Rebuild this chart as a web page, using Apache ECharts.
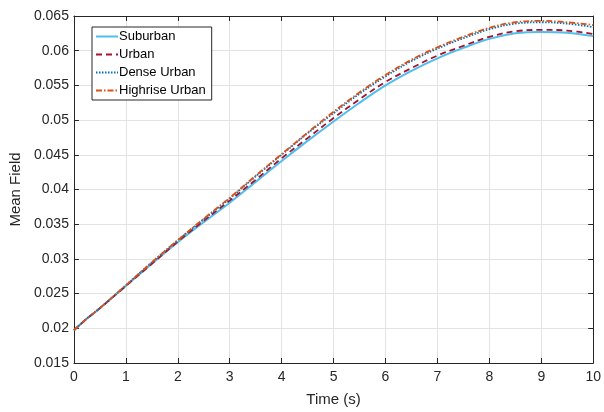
<!DOCTYPE html>
<html>
<head>
<meta charset="utf-8">
<script src="https://cdn.jsdelivr.net/npm/echarts@6/dist/echarts.min.js"></script>
<style>html,body{margin:0;padding:0;background:#fff;}#c{width:604px;height:412px;}</style>
</head>
<body>
<div id="c"></div>
<script>
const time = [0,0.1,0.25,0.5,1,1.5,2,2.5,3,3.5,4,4.5,5,5.5,6,6.5,7,7.5,8,8.5,9,9.5,10];
const suburban = [0.0197,0.0204,0.0214,0.0229,0.0261,0.0293,0.0324,0.0353,0.0381,0.0411,0.0441,0.0470,0.0498,0.0525,0.0550,0.0571,0.0589,0.0604,0.0617,0.0625,0.0627,0.0626,0.0621];
const urban = [0.0197,0.0204,0.0214,0.0229,0.0261,0.0293,0.0325,0.0355,0.0384,0.0414,0.0445,0.0474,0.0503,0.0530,0.0555,0.0575,0.0593,0.0607,0.0620,0.0628,0.0630,0.0629,0.0624];
const denseUrban = [0.0197,0.0204,0.0214,0.0229,0.0262,0.0295,0.0327,0.0357,0.0387,0.0419,0.0450,0.0481,0.0510,0.0538,0.0563,0.0585,0.0603,0.0618,0.0631,0.0639,0.0641,0.0639,0.0634];
const highriseUrban = [0.0197,0.0204,0.0214,0.0229,0.0262,0.0295,0.0327,0.0358,0.0388,0.0420,0.0451,0.0482,0.0512,0.0540,0.0565,0.0587,0.0605,0.0620,0.0633,0.0641,0.0643,0.0641,0.0637];
const seriesNames = ['Suburban','Urban','Dense Urban','Highrise Urban'];
const seriesColors = ['#4DBEEE','#A2142F','#0072BD','#D95319'];
const seriesTypes = ['solid',[6,4],[1.5,1.5],[6,2,1.5,2]];
const seriesData = [suburban, urban, denseUrban, highriseUrban];

const font = '"Liberation Sans", Arial, Helvetica, sans-serif';
const axisColor = '#262626';
const gridColor = '#e3e3e3';

const chart = echarts.init(document.getElementById('c'), null, {renderer:'canvas'});
const xBase = {
  type:'value', min:0, max:10, interval:1,
  axisLine:{show:true, onZero:false, lineStyle:{color:axisColor, width:1}},
  axisTick:{show:true, inside:true, length:5, lineStyle:{color:axisColor}},
};
const yBase = {
  type:'value', min:0.015, max:0.065, interval:0.005,
  axisLine:{show:true, onZero:false, lineStyle:{color:axisColor, width:1}},
  axisTick:{show:true, inside:true, length:5, lineStyle:{color:axisColor}},
};
chart.setOption({
  animation:false,
  backgroundColor:'#fff',
  textStyle:{fontFamily:font},
  grid:{left:70, right:7, top:16, bottom:44, containLabel:false},
  legend:{
    orient:'vertical', left:92, top:27,
    data:seriesNames,
    itemWidth:22, itemHeight:10, itemGap:5,
    padding:[3,6,3,3],
    borderColor:axisColor, borderWidth:1, backgroundColor:'#fff',
    itemStyle:{opacity:0},
    textStyle:{fontFamily:font, fontSize:13, color:'#000', padding:[0,0,0,-4]}
  },
  xAxis:[
    Object.assign({}, xBase, {
      position:'bottom',
      name:'Time (s)', nameLocation:'middle', nameGap:29,
      nameTextStyle:{fontFamily:font, fontSize:15, color:axisColor},
      axisLabel:{show:true, margin:7, fontSize:14, color:axisColor, fontFamily:font},
      splitLine:{show:true, lineStyle:{color:gridColor, width:1}}
    }),
    Object.assign({}, xBase, {
      position:'top',
      axisLabel:{show:false}, splitLine:{show:false}
    })
  ],
  yAxis:[
    Object.assign({}, yBase, {
      position:'left',
      name:'Mean Field', nameLocation:'middle', nameGap:42,
      nameTextStyle:{fontFamily:font, fontSize:15, color:axisColor},
      axisLabel:{show:true, margin:5, fontSize:14, color:axisColor, fontFamily:font,
        formatter:v=>String(parseFloat(v.toFixed(3)))},
      splitLine:{show:true, lineStyle:{color:gridColor, width:1}}
    }),
    Object.assign({}, yBase, {
      position:'right',
      axisLabel:{show:false}, splitLine:{show:false}
    })
  ],
  series: seriesNames.map((n,i)=>({
    name:n, type:'line',
    xAxisIndex:0, yAxisIndex:0,
    data: time.map((t,j)=>[t, seriesData[i][j]]),
    showSymbol:false, symbol:'none',
    smooth:0.35,
    z: 2+i,
    lineStyle:{color:seriesColors[i], width: i===0?2:1.8, type:seriesTypes[i]},
    itemStyle:{color:seriesColors[i]}
  }))
});
</script>
</body>
</html>
